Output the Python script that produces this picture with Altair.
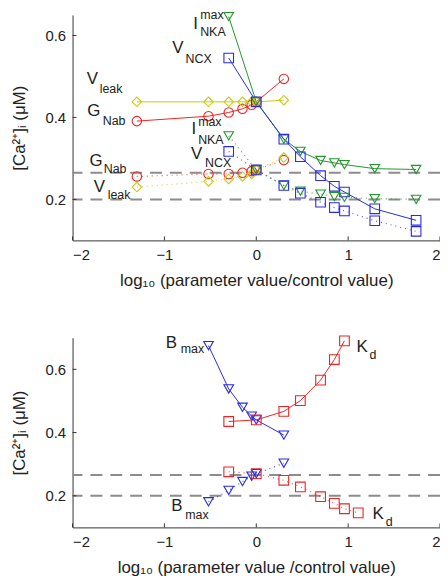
import altair as alt
import pandas as pd

FONT = "Liberation Sans"

# ---------------- top panel data ----------------
x_gv = [-1.30, -0.52, -0.30, -0.15, -0.05, 0.0, 0.30]
gnab_hi = [0.391, 0.403, 0.412, 0.421, 0.431, 0.438, 0.494]
gnab_lo = [0.256, 0.262, 0.262, 0.265, 0.269, 0.272, 0.296]
vleak_hi = [0.438, 0.438, 0.438, 0.438, 0.438, 0.438, 0.442]
vleak_lo = [0.230, 0.244, 0.250, 0.256, 0.262, 0.272, 0.302]

x_nv = [-0.30, 0.0, 0.30, 0.48, 0.70, 0.85, 0.96, 1.29, 1.74]
inka_hi = [0.646, 0.438, 0.347, 0.317, 0.295, 0.289, 0.285, 0.275, 0.273]
vncx_hi = [0.545, 0.438, 0.347, 0.304, 0.258, 0.232, 0.218, 0.177, 0.149]
inka_lo = [0.355, 0.272, 0.234, 0.220, 0.213, 0.207, 0.205, 0.202, 0.200]
vncx_lo = [0.317, 0.272, 0.234, 0.215, 0.193, 0.180, 0.172, 0.148, 0.122]

# ---------------- bottom panel data ----------------
x_b = [-0.52, -0.30, -0.15, -0.05, 0.0, 0.30]
bmax_hi = [0.675, 0.538, 0.480, 0.452, 0.440, 0.392]
bmax_lo = [0.181, 0.217, 0.245, 0.262, 0.270, 0.303]
x_k_hi = [-0.30, 0.0, 0.30, 0.48, 0.70, 0.85, 0.96]
kd_hi = [0.435, 0.440, 0.467, 0.501, 0.566, 0.631, 0.690]
x_k_lo = [-0.30, 0.0, 0.30, 0.48, 0.70, 0.85, 0.96, 1.11]
kd_lo = [0.276, 0.270, 0.249, 0.228, 0.197, 0.176, 0.159, 0.146]

# reference (dashed) levels
ref_top = [0.265, 0.200]
ref_bot = [0.266, 0.200]

x_ticks = [-2, -1, 0, 1, 2]
y_ticks = [0.2, 0.4, 0.6]

series_names = ["GNab", "Vleak", "INKA", "VNCX", "Bmax", "Kd"]
series_colors = ["#ee2424", "#c8c814", "#22962a", "#2a2ae6", "#2a2ae6", "#ee2424"]
series_shapes = ["circle", "diamond", "triangle-down", "square", "triangle-down", "square"]
series_sizes = [90, 95, 75, 45, 75, 45]

# labels: (text, x, y, kind)
labels_top = [
    ("V", -1.845, 0.481, "main"), ("leak", -1.705, 0.459, "sub"),
    ("G", -1.840, 0.404, "main"), ("Nab", -1.672, 0.382, "sub"),
    ("I", -0.685, 0.615, "main"), ("max", -0.611, 0.640, "sub"), ("NKA", -0.611, 0.598, "sub"),
    ("V", -0.915, 0.557, "main"), ("NCX", -0.770, 0.533, "sub"),
    ("I", -0.705, 0.359, "main"), ("max", -0.633, 0.379, "sub"), ("NKA", -0.633, 0.336, "sub"),
    ("V", -0.710, 0.299, "main"), ("NCX", -0.557, 0.278, "sub"),
    ("G", -1.815, 0.282, "main"), ("Nab", -1.661, 0.265, "sub"),
    ("V", -1.770, 0.217, "main"), ("leak", -1.618, 0.200, "sub"),
]
labels_bot = [
    ("B", -0.985, 0.667, "main"), ("max", -0.822, 0.651, "sub"),
    ("K", 1.090, 0.654, "main"), ("d", 1.232, 0.632, "sub"),
    ("B", -0.925, 0.151, "main"), ("max", -0.774, 0.126, "sub"),
    ("K", 1.265, 0.128, "main"), ("d", 1.410, 0.104, "sub"),
]


def series_df(rows):
    recs = []
    for name, cond, xs, ys in rows:
        for x, y in zip(xs, ys):
            recs.append({"x": x, "y": y, "series": name, "key": name + cond})
    return pd.DataFrame(recs)


top_hi = series_df([("GNab", "hi", x_gv, gnab_hi), ("Vleak", "hi", x_gv, vleak_hi),
                    ("INKA", "hi", x_nv, inka_hi), ("VNCX", "hi", x_nv, vncx_hi)])
top_lo = series_df([("GNab", "lo", x_gv, gnab_lo), ("Vleak", "lo", x_gv, vleak_lo),
                    ("INKA", "lo", x_nv, inka_lo), ("VNCX", "lo", x_nv, vncx_lo)])
bot_hi = series_df([("Bmax", "hi", x_b, bmax_hi), ("Kd", "hi", x_k_hi, kd_hi)])
bot_lo = series_df([("Bmax", "lo", x_b, bmax_lo), ("Kd", "lo", x_k_lo, kd_lo)])

cscale = alt.Scale(domain=series_names, range=series_colors)
sscale = alt.Scale(domain=series_names, range=series_shapes)
zscale = alt.Scale(domain=series_names, range=series_sizes)

W = 370
H = 516
TOP_BOTTOM = 227
BOT_TOP = 325


def panel(hi, lo, refs, labels, y_domain, y_range, x_offset, x_title, bottom_px):
    xs = alt.Scale(domain=[-2, 2], nice=False, zero=False)
    ys = alt.Scale(domain=y_domain, range=y_range, nice=False, zero=False)
    xa = alt.Axis(orient="bottom", offset=x_offset, values=x_ticks, title=x_title,
                  labelPadding=7, titlePadding=10, ticks=False, grid=False, format="d")
    ya = alt.Axis(orient="left", values=y_ticks, format=".1f", title="[Ca²⁺]ᵢ (μM)",
                  labelPadding=7, titlePadding=17, ticks=False, grid=False)
    X = alt.X("x:Q", scale=xs, axis=xa)
    Y = alt.Y("y:Q", scale=ys, axis=ya)

    both = pd.concat([hi, lo], ignore_index=True)
    ref_df = pd.DataFrame({"y": refs})
    lab_df = pd.DataFrame(labels, columns=["text", "x", "y", "kind"])
    xt_df = pd.DataFrame({"x": x_ticks})
    yt_df = pd.DataFrame({"y": y_ticks})

    color = alt.Color("series:N", scale=cscale, legend=None)

    refs_l = alt.Chart(ref_df).mark_rule(color="#8c8c8c", strokeWidth=2, strokeDash=[12, 8]).encode(y=Y)
    solid = alt.Chart(hi).mark_line(strokeWidth=1).encode(x=X, y=Y, color=color, detail="key:N")
    dotted = alt.Chart(lo).mark_line(strokeWidth=1.2, strokeDash=[1, 4], opacity=0.8).encode(
        x=X, y=Y, color=color, detail="key:N")
    pts = alt.Chart(both).mark_point(filled=False, strokeWidth=1.1, opacity=1).encode(
        x=X, y=Y, color=color,
        shape=alt.Shape("series:N", scale=sscale, legend=None),
        size=alt.Size("series:N", scale=zscale, legend=None))
    main_t = alt.Chart(lab_df[lab_df.kind == "main"]).mark_text(
        align="left", baseline="alphabetic", font=FONT, fontSize=17, color="#222").encode(
        x=X, y=Y, text="text:N")
    sub_t = alt.Chart(lab_df[lab_df.kind == "sub"]).mark_text(
        align="left", baseline="alphabetic", font=FONT, fontSize=12.5, color="#222").encode(
        x=X, y=Y, text="text:N")
    xt = alt.Chart(xt_df).mark_rule(color="#333", strokeWidth=1).encode(
        x=X, y=alt.value(bottom_px), y2=alt.value(bottom_px - 4))
    yt = alt.Chart(yt_df).mark_rule(color="#333", strokeWidth=1).encode(
        y=Y, x=alt.value(0), x2=alt.value(4))
    return alt.layer(refs_l, solid, dotted, pts, main_t, sub_t, xt, yt)


top = panel(top_hi, top_lo, ref_top, labels_top, [0.1, 0.65], [TOP_BOTTOM, 0],
            TOP_BOTTOM - H, "log₁₀ (parameter value/control value)", TOP_BOTTOM)
bot = panel(bot_hi, bot_lo, ref_bot, labels_bot, [0.1, 0.7], [H, BOT_TOP],
            0, "log₁₀ (parameter value /control value)", H)

chart = alt.layer(top, bot).resolve_scale(x="independent", y="independent").properties(
    width=W, height=H,
    autosize=alt.AutoSizeParams(type="none"),
    padding={"left": 65, "top": 5, "right": 0, "bottom": 58},
).configure_view(strokeWidth=0).configure_axis(
    domainColor="#333", domainWidth=1, labelColor="#222", titleColor="#222",
    labelFont=FONT, titleFont=FONT, labelFontSize=15, titleFontSize=17,
    titleFontWeight="normal",
)

chart.save("out.html", embed_options={"renderer": "svg", "actions": False})
